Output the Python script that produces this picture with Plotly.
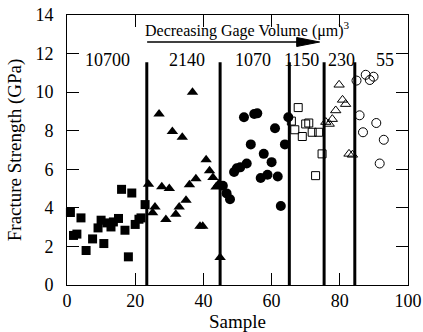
import plotly.graph_objects as go

# Filled squares (10700)
sq_x = [1.0, 1.9, 2.9, 4.1, 5.6, 7.5, 9.1, 10.0, 10.8, 11.7, 12.9, 13.6, 15.1, 16.0, 17.0, 18.0, 19.0, 20.0, 21.1, 21.7, 22.9]
sq_y = [3.76, 2.57, 2.64, 3.48, 1.79, 2.39, 2.96, 3.36, 2.15, 3.22, 3.01, 3.27, 3.45, 4.96, 2.84, 1.46, 4.77, 3.14, 3.41, 3.48, 4.17]

# Filled triangles (2140)
tri_x = [23.9, 25.1, 25.8, 27.0, 27.8, 29.0, 30.0, 30.9, 31.9, 32.9, 33.8, 34.9, 35.9, 36.8, 37.8, 39.0, 39.8, 40.8, 41.8, 42.8, 43.7, 44.5, 44.9]
tri_y = [5.22, 3.74, 4.05, 8.87, 5.10, 3.39, 5.00, 7.96, 3.67, 4.05, 7.66, 4.39, 5.20, 9.99, 5.51, 3.05, 3.05, 6.50, 5.92, 5.57, 5.08, 5.25, 1.43]

# Filled circles (1070)
cir_x = [45.7, 46.8, 47.8, 49.0, 49.8, 50.8, 51.9, 52.7, 53.9, 54.9, 55.8, 56.8, 57.7, 58.8, 60.0, 61.0, 61.8, 62.7, 63.9, 64.9]
cir_y = [5.15, 4.75, 4.45, 5.86, 6.05, 6.10, 8.70, 6.30, 7.29, 8.87, 8.90, 5.55, 6.80, 5.72, 6.37, 8.13, 5.63, 4.10, 7.29, 8.70]

# Open squares (1150)
osq_x = [65.8, 66.8, 67.8, 69.0, 70.0, 70.9, 71.9, 72.9, 73.8, 74.8]
osq_y = [8.50, 8.05, 9.20, 7.70, 8.35, 8.40, 7.92, 5.67, 7.92, 6.80]

# Open triangles (230)
otri_x = [75.9, 76.9, 77.8, 78.8, 79.8, 80.8, 81.7, 82.7, 83.7]
otri_y = [8.45, 8.35, 8.60, 9.05, 10.38, 9.60, 9.38, 6.80, 6.75]

# Open circles (55)
ocir_x = [84.9, 85.8, 86.8, 87.6, 88.8, 89.9, 90.7, 91.7, 92.9]
ocir_y = [10.60, 8.80, 7.92, 10.90, 10.63, 10.80, 8.40, 6.30, 7.53]

boundaries = [23.4, 44.9, 65.2, 75.4, 84.4]
group_labels = ["10700", "2140", "1070", "1150", "230", "55"]
group_label_x = [12.0, 35.2, 54.5, 68.9, 80.6, 93.2]

arrow_start = 23.5
arrow_end = 74.1
arrow_level = 12.6

FONT = "Liberation Serif"

fig = go.Figure()
series = [
    (sq_x, sq_y, "square", 9, "black", 0),
    (tri_x, tri_y, "triangle-up", 10, "black", 0),
    (cir_x, cir_y, "circle", 10, "black", 0),
    (osq_x, osq_y, "square-open", 8, "black", 1),
    (otri_x, otri_y, "triangle-up-open", 9, "black", 1),
    (ocir_x, ocir_y, "circle-open", 9, "black", 1),
]
for xs, ys, sym, size, col, lw in series:
    m = dict(symbol=sym, size=size, color=col)
    if lw:
        m["line"] = dict(width=1, color=col)
    else:
        m["line"] = dict(width=0)
    fig.add_trace(go.Scatter(x=xs, y=ys, mode="markers", marker=m, showlegend=False, cliponaxis=False))

for b in boundaries:
    fig.add_shape(type="line", x0=b, x1=b, y0=0, y1=11.55, line=dict(color="black", width=3))

for lab, lx in zip(group_labels, group_label_x):
    fig.add_annotation(x=lx, y=11.65, text=lab, showarrow=False,
                       font=dict(family=FONT, size=18, color="black"))

fig.add_annotation(x=53, y=13.25, text="Decreasing Gage Volume (μm)<sup>3</sup>", showarrow=False,
                   font=dict(family=FONT, size=16, color="black"))
# arrow shaft
fig.add_shape(type="line", x0=arrow_start, x1=arrow_end - 3, y0=arrow_level, y1=arrow_level,
              line=dict(color="black", width=1.5))
# arrow head (pixel-sized, anchored at the arrow tip)
fig.add_shape(type="path", xref="x", yref="y", xsizemode="pixel", ysizemode="pixel",
              xanchor=arrow_end, yanchor=arrow_level,
              path="M 0 0 L -23 4.5 L -23 -4.5 Z", fillcolor="black", line=dict(color="black", width=1))

axis_common = dict(showline=True, linecolor="black", linewidth=1, mirror="ticks", ticks="inside",
                   ticklen=12, tickwidth=1, tickcolor="black", showgrid=False, zeroline=False,
                   ticklabeloverflow="allow", automargin=False,
                   tickfont=dict(family=FONT, size=18, color="black"))
fig.update_xaxes(range=[0, 100], dtick=20, ticklabelstandoff=-1,
                 title=dict(text="Sample", font=dict(family=FONT, size=19, color="black"), standoff=0), **axis_common)
fig.update_yaxes(range=[0, 14], dtick=2, ticklabelstandoff=9,
                 title=dict(text="Fracture Strength (GPa)", font=dict(family=FONT, size=19, color="black"), standoff=8), **axis_common)

fig.update_layout(width=423, height=332, margin=dict(l=67, r=15, t=15, b=47),
                  plot_bgcolor="white", paper_bgcolor="white")
fig.write_html("out.html", config={"displayModeBar": False},
               post_script="document.body.style.margin='0';document.body.style.overflow='hidden';"
                           "document.documentElement.style.overflow='hidden';")
